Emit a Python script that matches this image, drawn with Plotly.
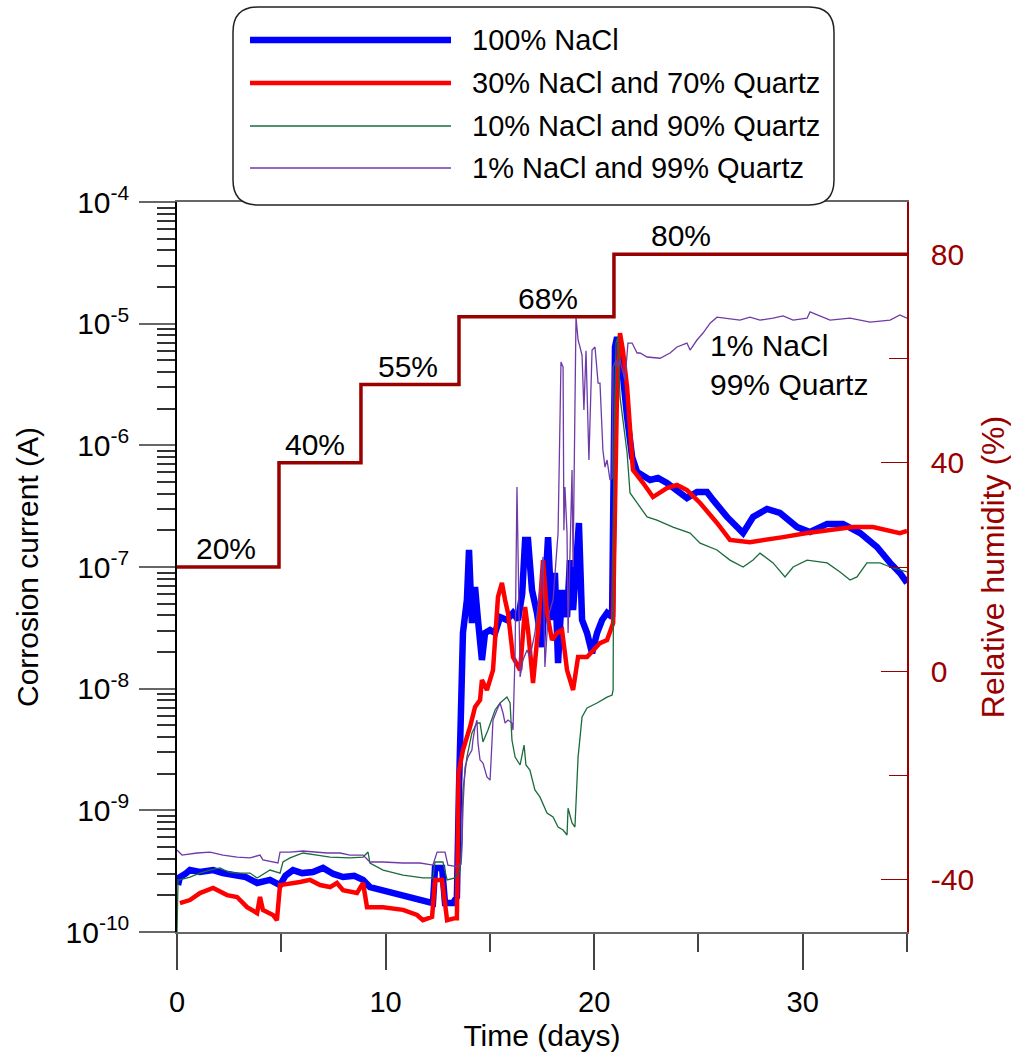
import plotly.graph_objects as go

# ---------------- data (time in days, current in A) ----------------
blue_days = [0.05, 0.14, 0.4, 0.62, 1.1, 1.73, 2.2, 2.88, 3.3, 3.84,
             4.46, 4.94, 5.2, 5.56, 6.0, 6.52, 7.0, 7.5, 7.96, 8.5,
             8.92, 9.25, 9.88, 10.4, 10.84, 11.3, 11.79, 12.27, 12.33, 12.37,
             12.71, 12.78, 12.85, 13.23, 13.42, 13.52, 13.62, 13.71, 13.90, 14.0,
             14.14, 14.29, 14.43, 14.62, 14.77, 15.01, 15.25, 15.49, 15.82, 16.11,
             16.35, 16.55, 16.69, 16.83, 17.02, 17.26, 17.50, 17.79, 17.98, 18.12,
             18.27, 18.46, 18.70, 18.84, 18.99, 19.27, 19.42, 19.66, 19.90, 20.14,
             20.38, 20.62, 20.86, 20.91, 21.0, 21.10, 21.34, 21.58, 21.82, 22.06,
             22.68, 23.06, 23.49, 24.12, 24.45, 24.93, 25.41, 25.70, 26.37, 27.14,
             27.62, 28.29, 28.91, 29.73, 30.35, 31.17, 31.93, 32.75, 33.56, 34.19,
             34.66, 35.0]
blue_amps = [2.43e-10, 2.83e-10, 3.0e-10, 3.23e-10, 3.11e-10, 3.23e-10, 3.05e-10, 2.94e-10, 2.83e-10, 2.53e-10,
             2.68e-10, 2.43e-10, 2.9e-10, 3.23e-10, 3.05e-10, 3.11e-10, 3.36e-10, 3.0e-10, 2.83e-10, 2.9e-10,
             2.68e-10, 2.34e-10, 2.21e-10, 2.1e-10, 2.01e-10, 1.9e-10, 1.83e-10, 1.73e-10, 2.5e-10, 3.36e-10,
             3.36e-10, 2.5e-10, 1.73e-10, 1.73e-10, 1.94e-10, 1.5e-9, 8.5e-9, 2.87e-8, 5.36e-8, 1.38e-7,
             3.46e-8, 6.85e-8, 3.67e-8, 1.72e-8, 2.87e-8, 3.03e-8, 2.87e-8, 3.88e-8, 3.67e-8, 4.19e-8,
             3.67e-8, 6.0e-8, 1.67e-7, 1.67e-7, 6.47e-8, 4.19e-8, 2.20e-8, 1.76e-7, 3.67e-8, 8.93e-8,
             1.62e-8, 6.47e-8, 3.88e-8, 1.14e-7, 4.43e-8, 2.30e-7, 3.67e-8, 2.87e-8, 1.96e-8, 2.87e-8,
             3.67e-8, 4.19e-8, 3.88e-8, 3.56e-7, 6.43e-6, 7.76e-6, 4.40e-6, 1.71e-6, 8.02e-7, 6.04e-7,
             5.19e-7, 5.39e-7, 4.90e-7, 4.06e-7, 3.69e-7, 4.13e-7, 4.13e-7, 3.56e-7, 2.58e-7, 1.90e-7,
             2.58e-7, 3.00e-7, 2.78e-7, 2.13e-7, 1.94e-7, 2.26e-7, 2.26e-7, 1.90e-7, 1.46e-7, 1.08e-7,
             8.93e-8, 7.39e-8]

red_days = [0.14, 0.62, 1.10, 1.73, 2.40, 2.88, 3.36, 3.84, 3.98, 4.12,
            4.60, 4.79, 4.94, 5.42, 5.90, 6.38, 6.86, 7.34, 7.67, 7.96,
            8.44, 8.63, 8.92, 9.11, 9.88, 10.84, 11.51, 11.79, 12.23, 12.37,
            12.71, 12.95, 13.33, 13.42, 13.50, 13.71, 14.05, 14.29, 14.53, 14.62,
            14.86, 15.15, 15.39, 15.58, 15.73, 15.87, 16.11, 16.45, 16.69, 16.83,
            17.07, 17.31, 17.55, 17.74, 17.98, 18.22, 18.46, 18.70, 18.99, 19.23,
            19.66, 19.95, 20.28, 20.62, 20.76, 20.91, 20.95, 21.10, 21.24, 21.38,
            21.58, 21.86, 22.35, 22.82, 23.49, 23.97, 24.45, 25.08, 25.89, 26.51,
            27.47, 28.29, 29.06, 30.21, 31.45, 32.41, 33.37, 34.04, 34.66, 35.0]
red_amps = [1.73e-10, 1.83e-10, 2.09e-10, 2.30e-10, 2.01e-10, 1.94e-10, 1.60e-10, 1.43e-10, 1.94e-10, 1.52e-10,
            1.38e-10, 1.25e-10, 2.43e-10, 2.53e-10, 2.58e-10, 2.68e-10, 2.43e-10, 2.34e-10, 2.53e-10, 2.21e-10,
            2.09e-10, 2.09e-10, 2.53e-10, 1.60e-10, 1.60e-10, 1.52e-10, 1.38e-10, 1.25e-10, 1.33e-10, 2.68e-10,
            2.68e-10, 1.25e-10, 1.30e-10, 1.30e-10, 2.03e-9, 3.13e-9, 4.84e-9, 7.07e-9, 8.07e-9, 1.18e-8,
            9.75e-9, 1.42e-8, 5.67e-8, 7.39e-8, 5.36e-8, 4.19e-8, 1.82e-8, 1.42e-8, 4.69e-8, 3.03e-8,
            1.11e-8, 3.03e-8, 1.14e-7, 4.19e-8, 2.51e-8, 2.87e-8, 3.03e-8, 1.42e-8, 9.75e-9, 1.82e-8,
            1.82e-8, 2.08e-8, 2.37e-8, 2.51e-8, 3.03e-8, 3.46e-8, 1.0e-7, 3.0e-6, 8.38e-6, 6.0e-6,
            3.01e-6, 6.27e-7, 4.90e-7, 3.76e-7, 4.46e-7, 4.72e-7, 4.29e-7, 3.36e-7, 2.30e-7, 1.67e-7,
            1.60e-7, 1.67e-7, 1.76e-7, 1.90e-7, 2.01e-7, 2.13e-7, 2.13e-7, 2.01e-7, 1.90e-7, 1.98e-7]

green_days = [0.0, 0.05, 0.14, 0.62, 1.10, 1.58, 2.06, 2.50, 2.88, 3.50,
              3.84, 4.46, 4.94, 5.08, 5.42, 6.04, 6.71, 7.34, 8.29, 8.92,
              9.16, 9.25, 9.88, 10.84, 11.79, 12.27, 12.37, 12.75, 12.95, 13.33,
              13.57, 13.66, 13.71, 13.90, 14.14, 14.38, 14.53, 14.67, 14.91, 15.25,
              15.49, 15.82, 15.97, 16.06, 16.21, 16.45, 16.64, 16.73, 16.92, 17.16,
              17.40, 17.74, 18.03, 18.27, 18.51, 18.70, 18.75, 18.94, 19.08, 19.23,
              19.42, 19.66, 20.14, 20.62, 20.86, 20.91, 20.95, 21.05, 21.14, 21.24,
              21.58, 21.72, 22.06, 22.54, 23.01, 23.78, 24.60, 25.08, 25.89, 26.51,
              27.14, 27.62, 27.95, 28.58, 29.15, 29.54, 30.21, 31.17, 31.79, 32.27,
              32.60, 33.08, 33.71, 34.19, 35.0]
green_amps = [1.0e-10, 2.68e-10, 2.68e-10, 2.83e-10, 3.05e-10, 3.23e-10, 3.36e-10, 3.1e-10, 3.05e-10, 3.05e-10,
              2.78e-10, 3.23e-10, 3.05e-10, 3.76e-10, 4.06e-10, 4.46e-10, 4.29e-10, 4.13e-10, 4.06e-10, 4.13e-10,
              4.54e-10, 3.69e-10, 3.23e-10, 2.94e-10, 2.78e-10, 2.78e-10, 3.76e-10, 3.76e-10, 2.68e-10, 2.78e-10,
              3.23e-10, 5.70e-10, 1.47e-9, 2.74e-9, 4.32e-9, 5.22e-9, 5.22e-9, 3.65e-9, 4.57e-9, 6.68e-9,
              7.62e-9, 8.53e-9, 7.62e-9, 3.78e-9, 2.74e-9, 2.36e-9, 3.44e-9, 2.36e-9, 2.14e-9, 1.47e-9,
              1.29e-9, 9.51e-10, 8.81e-10, 7.29e-10, 6.89e-10, 6.27e-10, 1.04e-9, 7.87e-10, 7.29e-10, 2.74e-9,
              5.85e-9, 6.93e-9, 7.62e-9, 8.53e-9, 8.87e-9, 9.75e-9, 1.0e-6, 7.0e-6, 7.76e-6, 2.50e-6,
              8.65e-7, 4.06e-7, 3.36e-7, 2.58e-7, 2.43e-7, 2.13e-7, 1.90e-7, 1.57e-7, 1.38e-7, 1.14e-7,
              1.0e-7, 1.14e-7, 1.30e-7, 1.08e-7, 8.28e-8, 1.0e-7, 1.14e-7, 1.08e-7, 9.1e-8, 7.82e-8,
              8.28e-8, 1.08e-7, 1.08e-7, 1.0e-7, 9.1e-8]

purple_days = [0.0, 0.24, 0.96, 1.58, 2.21, 2.88, 3.50, 3.98, 4.12, 4.60,
               4.84, 4.94, 5.42, 6.04, 6.71, 7.19, 7.82, 8.29, 8.92, 9.25,
               9.88, 10.84, 11.65, 12.27, 12.47, 12.85, 12.99, 13.42, 13.62, 13.66,
               13.71, 13.81, 13.95, 14.14, 14.19, 14.29, 14.38, 14.43, 14.53, 14.67,
               14.86, 15.01, 15.10, 15.15, 15.34, 15.49, 15.63, 15.73, 15.87, 16.06,
               16.11, 16.21, 16.30, 16.45, 16.59, 16.78, 16.92, 17.16, 17.40, 17.55,
               17.64, 17.79, 18.03, 18.27, 18.41, 18.51, 18.55, 18.60, 18.70, 18.75,
               18.94, 18.99, 19.13, 19.23, 19.32, 19.42, 19.51, 19.61, 19.75, 19.90,
               20.04, 20.19, 20.28, 20.42, 20.52, 20.62, 20.76, 20.86, 20.91, 21.05,
               21.14, 21.24, 21.48, 21.62, 21.82, 22.06, 22.20, 22.54, 23.16, 23.64,
               23.97, 24.45, 24.60, 24.93, 25.22, 25.56, 25.89, 26.37, 26.99, 27.47,
               27.95, 28.58, 29.06, 29.54, 30.21, 30.35, 31.31, 32.27, 33.23, 34.19,
               34.66, 35.0]
purple_amps = [4.72e-10, 4.29e-10, 4.46e-10, 4.54e-10, 4.29e-10, 4.13e-10, 4.06e-10, 4.29e-10, 3.91e-10, 3.76e-10,
               3.69e-10, 4.54e-10, 4.54e-10, 4.63e-10, 4.54e-10, 4.46e-10, 4.46e-10, 4.29e-10, 4.29e-10, 3.76e-10,
               3.76e-10, 3.69e-10, 3.69e-10, 3.55e-10, 4.54e-10, 4.54e-10, 3.55e-10, 3.45e-10, 3.6e-10, 4.72e-10,
               1.06e-9, 2.27e-9, 2.74e-9, 3.13e-9, 3.78e-9, 4.84e-9, 5.52e-9, 3.58e-9, 2.59e-9, 2.45e-9,
               1.88e-9, 1.77e-9, 3.58e-9, 5.52e-9, 6.68e-9, 7.62e-9, 6.31e-9, 5.22e-9, 5.52e-9, 5.22e-9,
               4.57e-9, 2.0e-8, 4.54e-7, 1.25e-8, 1.72e-8, 2.08e-8, 1.82e-8, 2.87e-8, 6.47e-8, 1.21e-7,
               1.51e-8, 3.88e-8, 5.36e-8, 1.9e-7, 4.84e-6, 4.40e-6, 2.0e-7, 4.54e-7, 1.9e-7, 2.87e-8,
               6.27e-7, 1.0e-7, 1.13e-5, 7.34e-6, 6.43e-6, 5.5e-6, 1.95e-6, 6.0e-6, 7.57e-7, 6.07e-6,
               6.43e-6, 3.25e-6, 3.25e-6, 9.16e-7, 6.63e-7, 7.57e-7, 5.19e-7, 5.39e-7, 4.40e-6, 5.02e-6,
               4.40e-6, 5.02e-6, 3.44e-6, 6.93e-6, 6.93e-6, 5.74e-6, 5.74e-6, 5.32e-6, 5.2e-6, 5.74e-6,
               6.43e-6, 6.93e-6, 6.07e-6, 7.34e-6, 8.38e-6, 1.01e-5, 1.13e-5, 1.11e-5, 1.07e-5, 1.13e-5,
               1.07e-5, 1.11e-5, 1.16e-5, 1.07e-5, 1.11e-5, 1.25e-5, 1.07e-5, 1.11e-5, 1.03e-5, 1.07e-5,
               1.18e-5, 1.11e-5]

rh_days = [0, 4.89, 8.82, 13.52, 20.95, 35]
rh_values = [20, 40, 55, 68, 80, 80]
rh_labels = ["20%", "40%", "55%", "68%", "80%"]
rh_label_days = [2.35, 6.62, 11.08, 17.79, 24.16]

series_names = ["100% NaCl", "30% NaCl and 70% Quartz",
                "10% NaCl and 90% Quartz", "1% NaCl and 99% Quartz"]
series_colors = ["#0000FF", "#FF0000", "#1B6B3C", "#6E3AA8"]
series_widths = [6.5, 4.5, 1.3, 1.3]

decades = [-10, -9, -8, -7, -6, -5, -4]
x_ticks = [0, 10, 20, 30]
rh_ticks = [-40, 0, 40, 80]
rh_ticktext = ["-40", "0", "40", "80"]
rh_minor = [-20, 20, 60]

FONT = "Liberation Sans, Arial, Helvetica, sans-serif"
DARKRED = "#990000"

fig = go.Figure()
for d, a, name, col, w in zip([blue_days, red_days, green_days, purple_days],
                              [blue_amps, red_amps, green_amps, purple_amps],
                              series_names, series_colors, series_widths):
    fig.add_trace(go.Scatter(x=d, y=a, mode="lines", name=name,
                             line=dict(color=col, width=w), showlegend=False))

fig.add_trace(go.Scatter(x=rh_days, y=rh_values, mode="lines", yaxis="y2",
                         line=dict(color=DARKRED, width=3.5, shape="hv"),
                         name="Relative humidity", showlegend=False))

annotations = []
for lab, xd, rv in zip(rh_labels, rh_label_days, rh_values):
    annotations.append(dict(x=xd, y=rv, xref="x", yref="y2", text=lab, showarrow=False,
                            yanchor="bottom", xanchor="center", yshift=0,
                            font=dict(size=30, color="black", family=FONT)))
annotations.append(dict(x=25.46, y=0.777, xref="x", yref="paper",
                        text="1% NaCl<br>99% Quartz", showarrow=False, align="left",
                        xanchor="left", yanchor="middle",
                        font=dict(size=30, color="black", family=FONT)))

# custom legend (rounded box with long line samples)
def px_x(p):
    return (p - 177) / 730.0

def px_y(p):
    return (932 - p) / 730.0

x0, x1, yt, yb, r = px_x(233), px_x(834), px_y(7), px_y(205), 25 / 730.0
box_path = (f"M {x0 + r},{yt} L {x1 - r},{yt} Q {x1},{yt} {x1},{yt - r} "
            f"L {x1},{yb + r} Q {x1},{yb} {x1 - r},{yb} L {x0 + r},{yb} "
            f"Q {x0},{yb} {x0},{yb + r} L {x0},{yt - r} Q {x0},{yt} {x0 + r},{yt} Z")
shapes = [dict(type="path", path=box_path, xref="paper", yref="paper",
               line=dict(color="#222222", width=1.5), fillcolor="white", layer="above")]
leg_rows = [40, 83, 126, 168]
for name, col, w, row in zip(series_names, series_colors, series_widths, leg_rows):
    shapes.append(dict(type="line", xref="paper", yref="paper",
                       x0=px_x(250), x1=px_x(451), y0=px_y(row), y1=px_y(row),
                       line=dict(color=col, width=w)))
    annotations.append(dict(x=px_x(470), y=px_y(row), xref="paper", yref="paper",
                            text=name, showarrow=False, xanchor="left", yanchor="middle",
                            font=dict(size=29, color="black", family=FONT)))

fig.update_layout(
    width=1011, height=1054,
    margin=dict(l=177, r=104, t=202, b=122, pad=0, autoexpand=False),
    paper_bgcolor="white", plot_bgcolor="white",
    font=dict(family=FONT, color="black"),
    shapes=shapes, annotations=annotations,
    xaxis=dict(range=[0, 35], tickmode="array", tickvals=x_ticks, automargin=False,
               ticks="outside", ticklen=36, tickwidth=1.5, tickcolor="#444444",
               minor=dict(dtick=5, tick0=0, ticks="outside", ticklen=18,
                          tickwidth=1.5, tickcolor="#444444", showgrid=False),
               showline=True, linecolor="#666666", linewidth=2, mirror=True,
               showgrid=False, zeroline=False, ticklabelstandoff=7,
               tickfont=dict(size=29, family=FONT),
               title=dict(text="Time (days)", font=dict(size=30, family=FONT), standoff=8)),
    yaxis=dict(type="log", range=[-10, -4], tickmode="array", automargin=False,
               tickvals=[10.0 ** k for k in decades],
               ticktext=[f"10<sup>{k}</sup>" for k in decades],
               ticks="outside", ticklen=36, tickwidth=1.5, tickcolor="#666666",
               minor=dict(tickmode="array",
                          tickvals=[m * 10.0 ** k for k in decades[:-1] for m in range(2, 10)],
                          ticks="outside", ticklen=18, tickwidth=1.5,
                          tickcolor="#333333", showgrid=False),
               showline=True, linecolor="black", linewidth=1.5,
               showgrid=False, zeroline=False, ticklabelstandoff=4,
               tickfont=dict(size=30, family=FONT),
               title=dict(text="Corrosion current (A)", font=dict(size=30, family=FONT), standoff=18)),
    yaxis2=dict(overlaying="y", side="right", range=[-50, 90], tickmode="array",
                tickvals=rh_ticks, ticktext=rh_ticktext, automargin=False,
                ticks="inside", ticklen=26, tickwidth=1.2, tickcolor=DARKRED,
                minor=dict(tickmode="array", tickvals=rh_minor, ticks="inside",
                           ticklen=18, tickwidth=1.2, tickcolor=DARKRED, showgrid=False),
                showline=True, linecolor=DARKRED, linewidth=1.5,
                showgrid=False, zeroline=False, ticklabelstandoff=16,
                tickfont=dict(size=30, color=DARKRED, family=FONT),
                title=dict(text="Relative humidity (%)",
                           font=dict(size=32, color=DARKRED, family=FONT), standoff=14)),
)

fig.write_html("out.html", config={"displayModeBar": False},
               post_script="document.body.style.margin='0';")
